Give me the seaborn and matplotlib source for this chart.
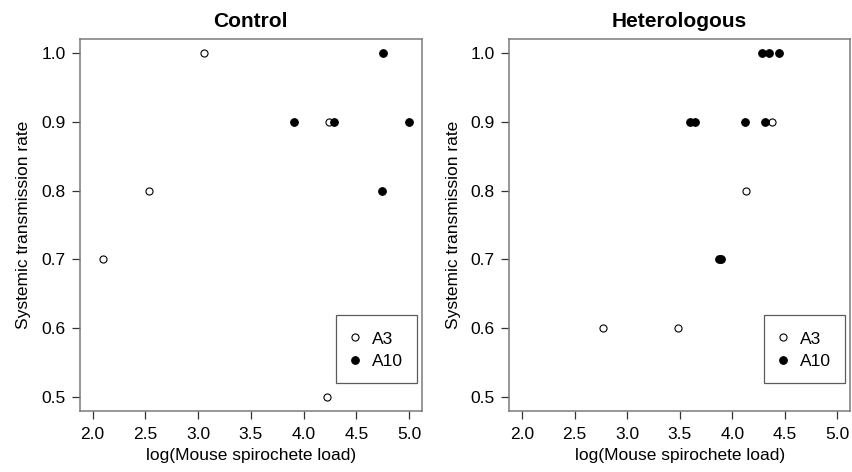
import numpy as np
import pandas as pd
import matplotlib
matplotlib.use("Agg")
import matplotlib.pyplot as plt
import seaborn as sns

# values
ctrl_a3_load = [2.10, 2.53, 3.06, 4.24, 4.22]
ctrl_a3_rate = [0.7, 0.8, 1.0, 0.9, 0.5]
ctrl_a10_load = [3.91, 4.29, 4.75, 4.74, 5.00]
ctrl_a10_rate = [0.9, 0.9, 1.0, 0.8, 0.9]

het_a3_load = [2.77, 3.48, 4.13, 4.38]
het_a3_rate = [0.6, 0.6, 0.8, 0.9]
het_a10_load = [3.60, 3.65, 3.87, 3.89, 4.12, 4.31, 4.28, 4.35, 4.44]
het_a10_rate = [0.9, 0.9, 0.7, 0.7, 0.9, 0.9, 1.0, 1.0, 1.0]

panels = ["Control", "Heterologous"]
x_ticks = [2.0, 2.5, 3.0, 3.5, 4.0, 4.5, 5.0]
y_ticks = [0.5, 0.6, 0.7, 0.8, 0.9, 1.0]

rows = []
for panel, a3x, a3y, a10x, a10y in [
    ("Control", ctrl_a3_load, ctrl_a3_rate, ctrl_a10_load, ctrl_a10_rate),
    ("Heterologous", het_a3_load, het_a3_rate, het_a10_load, het_a10_rate),
]:
    for x, y in zip(a3x, a3y):
        rows.append((panel, "A3", x, y))
    for x, y in zip(a10x, a10y):
        rows.append((panel, "A10", x, y))
df = pd.DataFrame(rows, columns=["panel", "strain", "load", "rate"])

sns.set_style("white")
plt.rcParams["font.family"] = ["Liberation Sans", "DejaVu Sans"]
plt.rcParams["text.color"] = "black"
plt.rcParams["axes.labelcolor"] = "black"
plt.rcParams["xtick.color"] = "black"
plt.rcParams["ytick.color"] = "black"

fig = plt.figure(figsize=(8.52, 4.72), dpi=100)
ax1 = fig.add_axes([0.0939, 0.1299, 0.4011, 0.7868])
ax2 = fig.add_axes([0.5978, 0.1299, 0.3999, 0.7868])

fs = 12.5
spine_col = "#7a7a7a"
for ax, panel in zip([ax1, ax2], panels):
    sub = df[df["panel"] == panel]
    a3 = sub[sub["strain"] == "A3"]
    a10 = sub[sub["strain"] == "A10"]
    sns.scatterplot(data=a3, x="load", y="rate", ax=ax, s=26,
                    facecolor="white", edgecolor="black", linewidth=0.8,
                    label="A3", zorder=3)
    sns.scatterplot(data=a10, x="load", y="rate", ax=ax, s=30,
                    color="black", edgecolor="black", linewidth=0.8,
                    label="A10", zorder=3)
    ax.set_xlim(1.88, 5.12)
    ax.set_ylim(0.48, 1.02)
    ax.set_xticks(x_ticks)
    ax.set_yticks(y_ticks)
    ax.set_xticklabels([f"{v:.1f}" for v in x_ticks])
    ax.set_yticklabels([f"{v:.1f}" for v in y_ticks])
    ax.tick_params(axis="both", which="major", direction="out", length=5.5,
                   width=0.9, color="#333333", labelcolor="black",
                   labelsize=fs, bottom=True, left=True)
    ax.tick_params(axis="y", pad=5)
    ax.tick_params(axis="x", pad=6.5)
    for sp in ax.spines.values():
        sp.set_visible(True)
        sp.set_color(spine_col)
        sp.set_linewidth(1.1)
    ax.set_title(panel, fontsize=15, fontweight="bold", pad=9, color="black")
    ax.set_xlabel("log(Mouse spirochete load)", fontsize=fs, labelpad=4)
    ax.set_ylabel("Systemic transmission rate", fontsize=fs, labelpad=7)
    leg = ax.legend(loc="lower right", bbox_to_anchor=(0.985, 0.074),
                    frameon=True, fancybox=False, fontsize=fs,
                    handletextpad=0.68, borderpad=0.8, labelspacing=0.28,
                    handlelength=0.6, handleheight=1.2, borderaxespad=0,
                    markerscale=1.0)
    leg.get_frame().set_edgecolor("#333333")
    leg.get_frame().set_linewidth(0.9)

fig.savefig("out.png", dpi=100)
